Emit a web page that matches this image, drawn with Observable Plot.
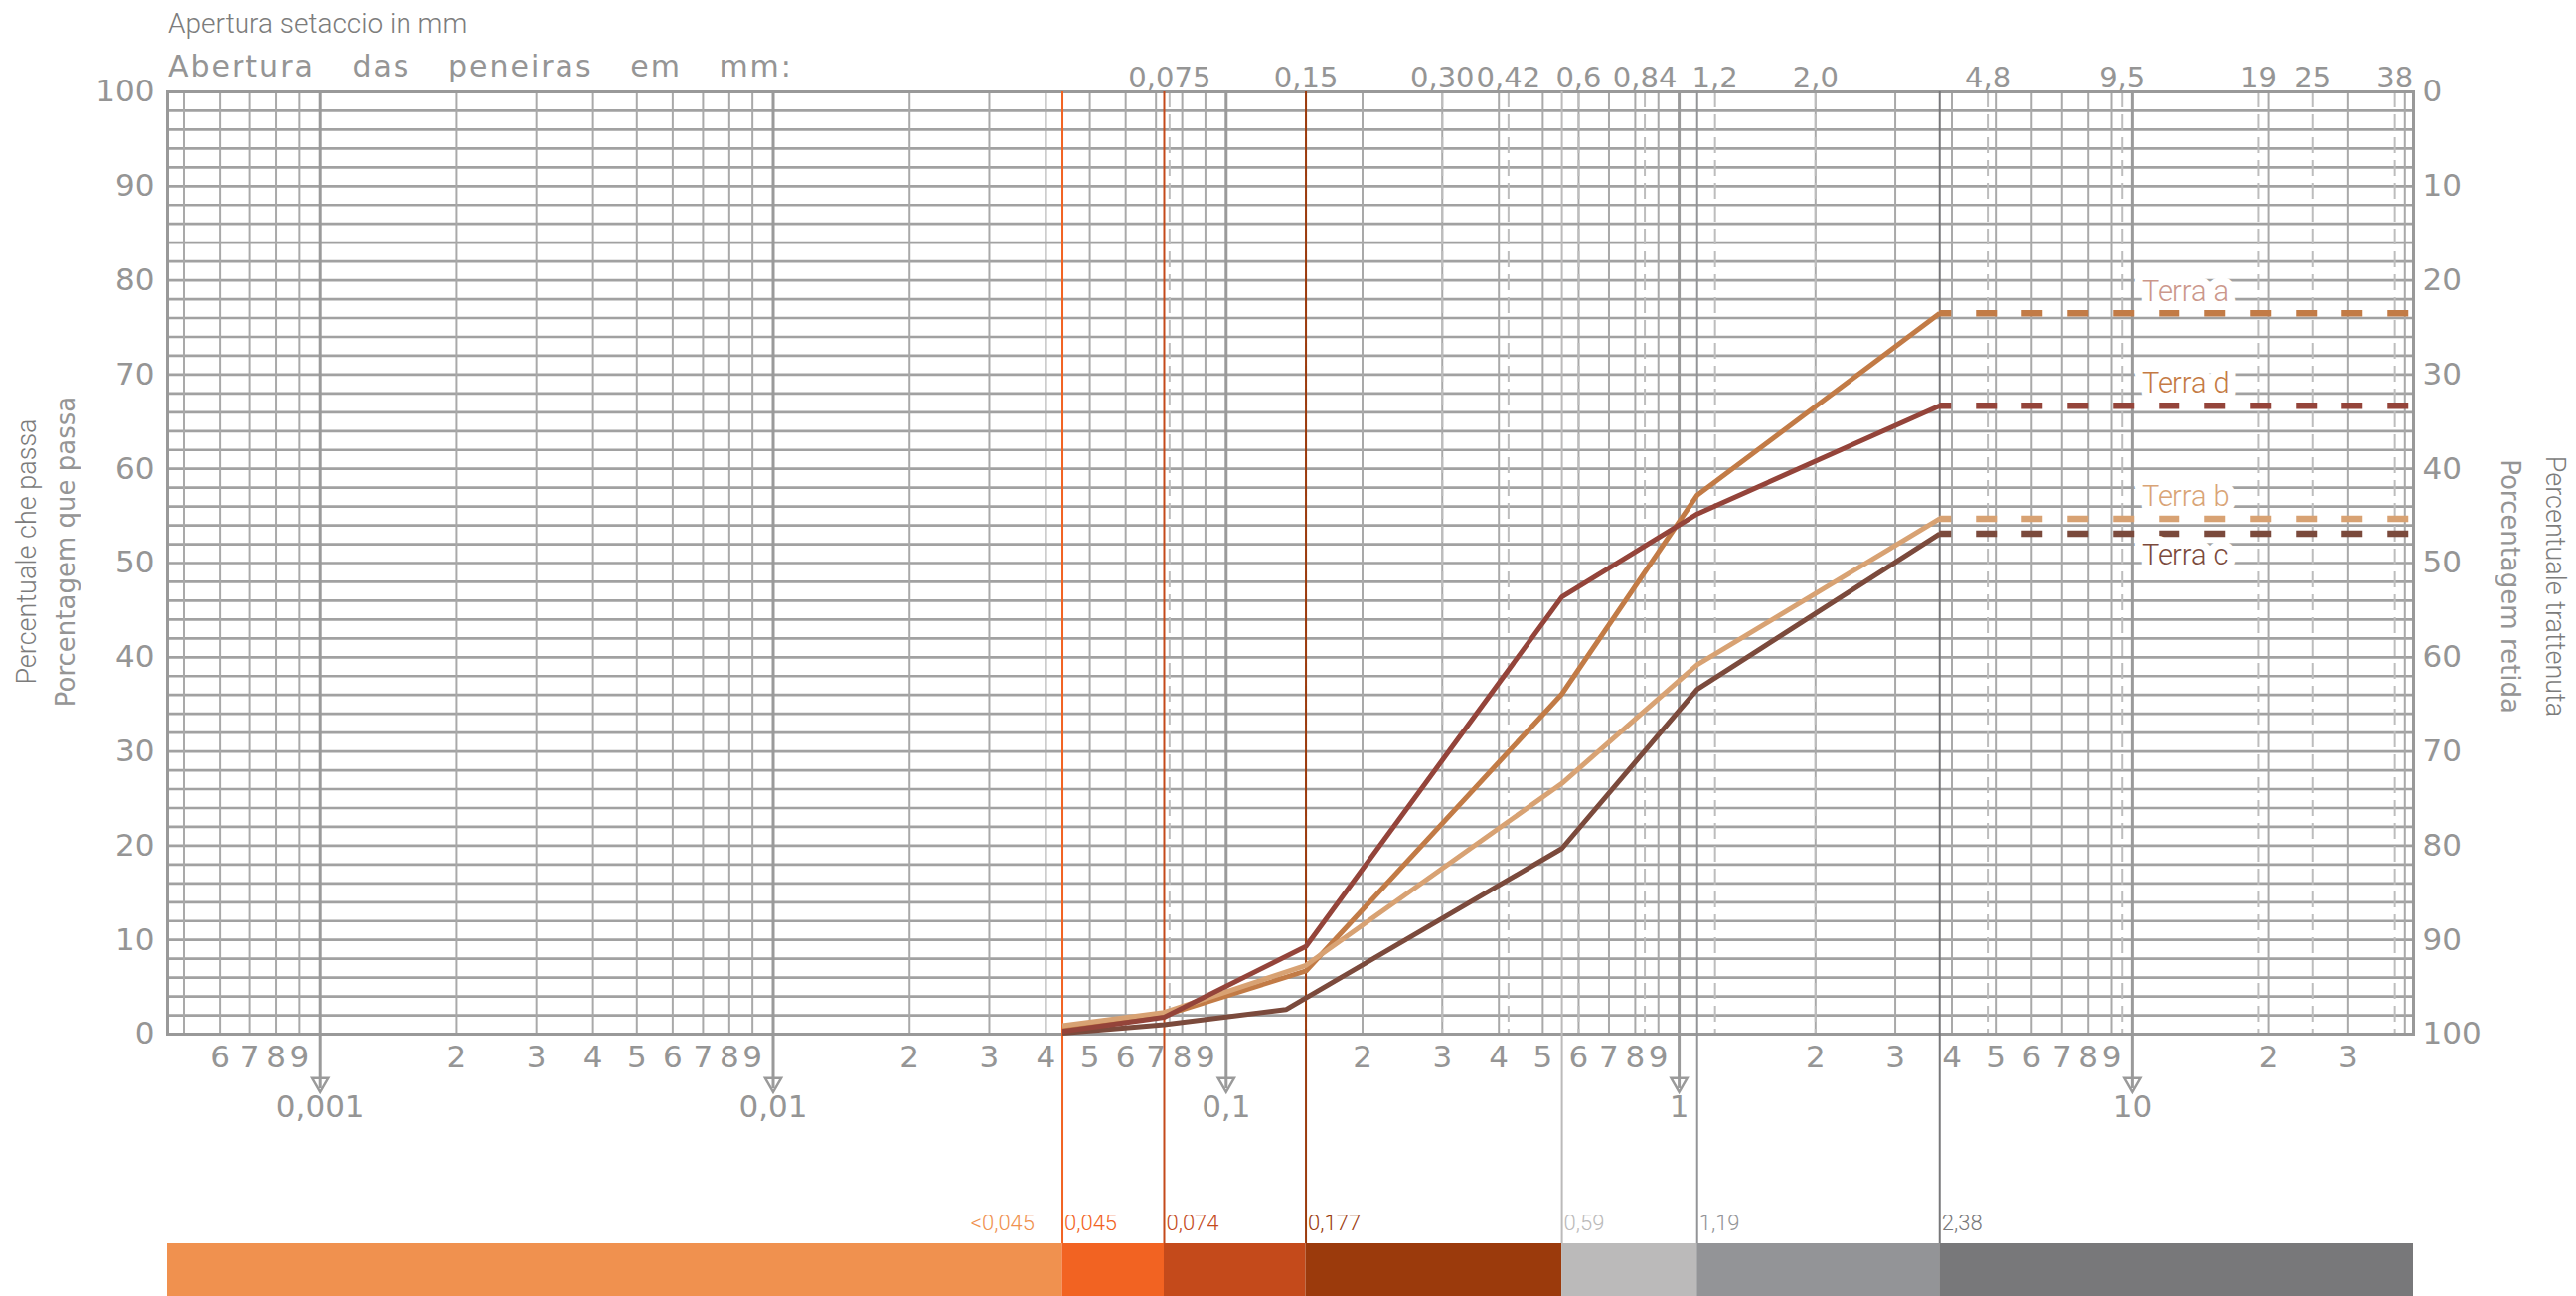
<!DOCTYPE html>
<html><head><meta charset="utf-8">
<script src="https://cdn.jsdelivr.net/npm/d3@7"></script>
<script src="https://cdn.jsdelivr.net/npm/@observablehq/plot@0.6"></script>
<style>
html,body{margin:0;padding:0;background:#fff;}
#wrap{position:relative;width:2592px;height:1304px;overflow:hidden;background:#fff;}
#wrap svg{position:absolute;left:0;top:0;}
.t{position:absolute;white-space:nowrap;line-height:1;}
.thin{font-family:Roboto,"Liberation Sans",sans-serif;font-weight:300;color:#7c7c7c;}
.scan{font-family:"DejaVu Sans",sans-serif;color:#959595;}
.rotL{transform:translate(-50%,-50%) rotate(-90deg);}
.rotR{transform:translate(-50%,-50%) rotate(90deg);}
</style></head><body>
<div id="wrap">
  <div class="t thin" style="left:169px;top:10px;font-size:28px;">Apertura setaccio in mm</div>
  <div class="t scan" style="left:169px;top:52px;font-size:30px;letter-spacing:2px;word-spacing:26px;">Abertura das peneiras em mm:</div>
  <div class="t thin rotL" style="left:27px;top:555px;font-size:27px;">Percentuale che passa</div>
  <div class="t scan rotL" style="left:66px;top:555px;font-size:26px;">Porcentagem que passa</div>
  <div class="t scan rotR" style="left:2526px;top:590px;font-size:26px;">Porcentagem retida</div>
  <div class="t thin rotR" style="left:2570px;top:590px;font-size:27px;">Percentuale trattenuta</div>
</div>
<script>
// ---------------- data ----------------
const xDomain = [0.00046, 41.8];                 // extent of the printed log sheet (mm)
const sieveLabels = ["0,045", "0,074", "0,177", "0,59", "1,19", "2,38"];
const sievePos = [0.0435, 0.073, 0.15, 0.551, 1.096, 3.76];   // where each line sits on the sheet
const sieveColors = ["#F26322", "#C44A1B", "#9B3A0C", "#BBBABA", "#939497", "#78787A"];
const fineLabel = "<0,045";
const fineColor = "#F0914F";

const series = ["Terra a", "Terra b", "Terra c", "Terra d"];
const seriesColors = ["#C27B46", "#D8A273", "#7B4A3C", "#94443A"];
const seriesLabelColors = ["#CB978B", "#D9A476", "#7B4A3C", "#C47A44"];
const xTerraA = [0.0435, 0.073, 0.15, 0.551, 1.096, 3.76];
const xTerraB = [0.0435, 0.073, 0.15, 0.551, 1.096, 3.76];
const xTerraC = [0.0435, 0.073, 0.1355, 0.551, 1.096, 3.76];
const xTerraD = [0.0435, 0.073, 0.15, 0.551, 1.096, 3.76];
const terraA = [0.6, 2.0, 6.7, 36.1, 57.2, 76.5];
const terraB = [0.9, 2.3, 7.3, 26.6, 39.2, 54.7];
const terraC = [0.1, 1.0, 2.6, 19.7, 36.6, 53.1];
const terraD = [0.3, 1.8, 9.3, 46.4, 55.2, 66.7];
const seriesLabelX = 10.5;

const topSieves = [0.075, 0.15, 0.30, 0.42, 0.6, 0.84, 1.2, 2.0, 4.8, 9.5, 19, 25, 38];
const topSieveLabels = ["0,075", "0,15", "0,30", "0,42", "0,6", "0,84", "1,2", "2,0", "4,8", "9,5", "19", "25", "38"];
const decades = [0.001, 0.01, 0.1, 1, 10];
const decadeLabels = ["0,001", "0,01", "0,1", "1", "10"];
const yTicks = [0, 10, 20, 30, 40, 50, 60, 70, 80, 90, 100];
const yGrid = [0,2,4,6,8,10,12,14,16,18,20,22,24,26,28,30,32,34,36,38,40,42,44,46,48,50,52,54,56,58,60,62,64,66,68,70,72,74,76,78,80,82,84,86,88,90,92,94,96,98,100];
const mantissas = [1, 2, 3, 4, 5, 6, 7, 8, 9];
const exponents = [-4, -3, -2, -1, 0, 1];

// ---------------- derived tables ----------------
const gridX = [];
const minorLabels = [];
for (const e of exponents) for (const m of mantissas) {
  const v = +(m * Math.pow(10, e)).toPrecision(6);
  if (v > xDomain[0] && v < xDomain[1]) {
    gridX.push({v, major: m === 1});
    if (m > 1 && v > 0.00055 && v < 35) minorLabels.push({v, t: String(m)});
  }
}
const xs = [xTerraA, xTerraB, xTerraC, xTerraD];
const ys = [terraA, terraB, terraC, terraD];
const curves = [];
series.forEach((s, i) => ys[i].forEach((y, j) => curves.push({series: s, x: xs[i][j], y})));
const ends = series.map((s, i) => ({
  series: s, x: xs[i][xs[i].length - 1], y: ys[i][ys[i].length - 1],
  color: seriesColors[i], labelColor: seriesLabelColors[i], below: s === "Terra c"
}));
const band = [{x1: xDomain[0], x2: sievePos[0], fill: fineColor, label: fineLabel, fine: true}]
  .concat(sievePos.map((p, i) => ({x1: p, x2: i + 1 < sievePos.length ? sievePos[i + 1] : xDomain[1], fill: sieveColors[i], label: sieveLabels[i], fine: false})));

// ---------------- layout ----------------
const W = 2592, H = 1304;
const frameTop = 92, frameBottom = 1040, frameLeft = 168, frameRight = 2428;
const bandTop = 1251;
const scanGray = "#959595";
const labelFont = {fontFamily: "Roboto", fontWeight: 300};

const chart = Plot.plot({
  width: W, height: H,
  marginLeft: frameLeft, marginRight: W - frameRight, marginTop: frameTop, marginBottom: H - frameBottom,
  x: {type: "log", domain: xDomain, axis: null},
  y: {domain: [0, 100], axis: null},
  color: {domain: series, range: seriesColors},
  style: {background: "transparent", fontFamily: "DejaVu Sans", fontSize: "31px", color: scanGray, overflow: "visible"},
  marks: [
    // scanned sheet grid
    Plot.ruleY(yGrid, {stroke: "#a1a1a1", strokeWidth: 2.7}),
    Plot.ruleX(gridX.filter(d => !d.major), {x: "v", stroke: "#a9a9a9", strokeWidth: 2}),
    Plot.ruleX(topSieves, {stroke: "#bdbdbd", strokeWidth: 2, strokeDasharray: "16,7"}),
    Plot.ruleX(decades, {stroke: "#9a9a9a", strokeWidth: 3, insetBottom: -55}),
    Plot.dot(decades, {x: d => d, frameAnchor: "bottom", dy: 49, symbol: "triangle", rotate: 180, r: 6, stroke: "#9a9a9a", strokeWidth: 2.5, fill: "none"}),
    Plot.frame({stroke: "#999999", strokeWidth: 3}),
    // scanned labels
    Plot.axisY(yTicks, {anchor: "left", label: null, tickSize: 0, tickPadding: 13, fill: scanGray}),
    Plot.axisY(yTicks, {anchor: "right", label: null, tickSize: 0, tickPadding: 9, tickFormat: d => String(100 - d), fill: scanGray}),
    Plot.text(topSieves, {x: d => d, text: (d, i) => topSieveLabels[i], frameAnchor: "top", dy: -25, fill: scanGray, fontSize: 29}),
    Plot.text(minorLabels, {x: "v", text: "t", frameAnchor: "bottom", dy: 33, fill: scanGray}),
    Plot.text(decades, {x: d => d, text: (d, i) => decadeLabels[i], frameAnchor: "bottom", dy: 83, fill: scanGray}),
    // sieve classes
    Plot.ruleX(band.filter(d => !d.fine), {x: "x1", stroke: "fill", strokeWidth: 2, insetBottom: -(bandTop - frameBottom)}),
    Plot.rect(band, {x1: "x1", x2: "x2", fill: "fill", insetTop: bandTop - frameTop, insetBottom: -(H - frameBottom)}),
    Plot.text(band.filter(d => d.fine), {x: "x2", text: "label", fill: "fill", frameAnchor: "bottom", dy: 197,
      textAnchor: "end", dx: -28, fontSize: 22, ...labelFont}),
    Plot.text(band.filter(d => !d.fine), {x: "x1", text: "label", fill: "fill", frameAnchor: "bottom", dy: 197,
      textAnchor: "start", dx: 2, fontSize: 22, ...labelFont}),
    // curves
    Plot.line(curves, {x: "x", y: "y", z: "series", stroke: "series", strokeWidth: 5, strokeLinejoin: "miter", strokeLinecap: "butt"}),
    Plot.ruleY(ends, {y: "y", x1: "x", x2: xDomain[1], stroke: "color", strokeWidth: 6.5, strokeDasharray: "21,25", strokeDashoffset: 9}),
    Plot.text(ends.filter(d => !d.below), {x: seriesLabelX, y: "y", text: "series", fill: "labelColor", textAnchor: "start",
      dy: -22, fontSize: 29, ...labelFont, stroke: "white", strokeWidth: 16, paintOrder: "stroke"}),
    Plot.text(ends.filter(d => d.below), {x: seriesLabelX, y: "y", text: "series", fill: "labelColor", textAnchor: "start",
      dy: 22, fontSize: 29, ...labelFont, stroke: "white", strokeWidth: 16, paintOrder: "stroke"})
  ]
});
document.getElementById("wrap").prepend(chart);
</script>
</body></html>
